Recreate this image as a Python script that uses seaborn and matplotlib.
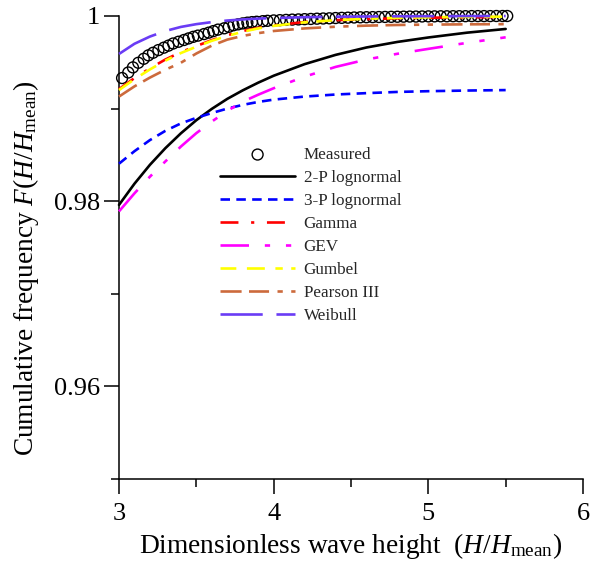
import matplotlib
matplotlib.use("Agg")
import matplotlib.pyplot as plt
import seaborn as sns
import pandas as pd

# ---------------- data ----------------
h_meas = [3.02, 3.06, 3.09, 3.125, 3.16, 3.19, 3.22, 3.255, 3.29, 3.32, 3.35, 3.385,
          3.42, 3.45, 3.48, 3.51, 3.55, 3.58, 3.61, 3.64, 3.68, 3.71, 3.74, 3.77,
          3.80, 3.83, 3.86, 3.89, 3.93, 3.96, 4.00, 4.04, 4.08, 4.12, 4.16, 4.20,
          4.24, 4.28, 4.32, 4.36, 4.40, 4.44, 4.48, 4.52, 4.56, 4.60, 4.64, 4.68,
          4.72, 4.76, 4.80, 4.84, 4.88, 4.92, 4.96, 5.00, 5.04, 5.08, 5.12, 5.16,
          5.20, 5.24, 5.28, 5.32, 5.36, 5.40, 5.44, 5.48, 5.51]
f_meas = [0.99330, 0.99390, 0.99445, 0.99495, 0.99538, 0.99575, 0.99603, 0.99632,
          0.99658, 0.99680, 0.99703, 0.99722, 0.99741, 0.99758, 0.99775, 0.99788,
          0.99805, 0.99820, 0.99837, 0.99853, 0.99867, 0.99883, 0.99900, 0.99910,
          0.99920, 0.99928, 0.99934, 0.99938, 0.99944, 0.99948, 0.99952, 0.99955,
          0.99958, 0.99961, 0.99963, 0.99966, 0.99968, 0.99971, 0.99973, 0.99975,
          0.99978, 0.99980, 0.99982, 0.99984, 0.99986, 0.99987, 0.99988, 0.99989,
          0.99990, 0.99991, 0.99992, 0.99993, 0.99994, 0.99994, 0.99995, 0.99996,
          0.99996, 0.99997, 0.99997, 0.99998, 0.99998, 0.99998, 0.99999, 0.99999,
          0.99999, 0.99999, 1.00000, 1.00000, 1.00000]

h_fit = [3.0, 3.1, 3.2, 3.3, 3.4, 3.5, 3.6, 3.7, 3.8, 3.9, 4.0, 4.2, 4.4, 4.6, 4.8,
         5.0, 5.25, 5.5]
f_lognorm2 = [0.97960, 0.98189, 0.98393, 0.98573, 0.98733, 0.98875, 0.98997, 0.99105,
              0.99197, 0.99280, 0.99355, 0.99480, 0.99580, 0.99660, 0.99720, 0.99768,
              0.99820, 0.99860]
f_lognorm3 = [0.98405, 0.98540, 0.98660, 0.98760, 0.98840, 0.98900, 0.98952, 0.99000,
              0.99040, 0.99072, 0.99097, 0.99130, 0.99152, 0.99167, 0.99180, 0.99188,
              0.99195, 0.99200]
f_gamma = [0.99210, 0.99330, 0.99435, 0.99530, 0.99610, 0.99675, 0.99740, 0.99792,
           0.99838, 0.99872, 0.99898, 0.99935, 0.99955, 0.99966, 0.99975, 0.99981,
           0.99986, 0.99989]
f_gev = [0.97890, 0.98085, 0.98265, 0.98430, 0.98590, 0.98735, 0.98860, 0.98975,
         0.99075, 0.99150, 0.99220, 0.99345, 0.99450, 0.99530, 0.99592, 0.99645,
         0.99710, 0.99770]
f_gumbel = [0.99200, 0.99318, 0.99423, 0.99518, 0.99600, 0.99668, 0.99732, 0.99785,
            0.99830, 0.99866, 0.99893, 0.99932, 0.99955, 0.99970, 0.99980, 0.99986,
            0.99990, 0.99993]
f_pearson = [0.99130, 0.99240, 0.99335, 0.99420, 0.99495, 0.99595, 0.99680, 0.99745,
             0.99785, 0.99815, 0.99838, 0.99866, 0.99884, 0.99896, 0.99903, 0.99907,
             0.99910, 0.99912]
f_weibull = [0.99590, 0.99700, 0.99778, 0.99838, 0.99882, 0.99912, 0.99934, 0.99951,
             0.99963, 0.99972, 0.99978, 0.99987, 0.99992, 0.99995, 0.99997, 0.99998,
             0.99999, 1.00000]

labels = ["2-P lognormal", "3-P lognormal", "Gamma", "GEV", "Gumbel", "Pearson III", "Weibull"]
values = [f_lognorm2, f_lognorm3, f_gamma, f_gev, f_gumbel, f_pearson, f_weibull]
colors = ["#000000", "#0000ff", "#ff0000", "#ff00ff", "#ffff00", "#cc6a3c", "#6a3cf5"]
styles = ["-", (0, (3.6, 2.4)), (0, (6.8, 4.8, 1.2, 4.8)),
          (0, (10.8, 6, 2, 6, 2, 6)), (0, (6, 4, 6.8, 4, 2.8, 3.2)),
          (0, (8, 2.8, 7.6, 3.2, 2, 3.2, 2, 3.2)), (0, (16, 5.2))]

# ---------------- style ----------------
sns.set_style("ticks")
plt.rcParams["font.family"] = ["Liberation Serif", "DejaVu Serif"]
plt.rcParams["mathtext.fontset"] = "custom"
plt.rcParams["mathtext.rm"] = "Liberation Serif"
plt.rcParams["mathtext.it"] = "Liberation Serif:italic"
plt.rcParams["mathtext.bf"] = "Liberation Serif:bold"

fig = plt.figure(figsize=(5.9, 5.61), dpi=100)
ax = fig.add_axes([119 / 590, 1 - 479 / 561, 464 / 590, 463 / 561])

df_meas = pd.DataFrame({"h": h_meas, "f": f_meas})
sns.scatterplot(data=df_meas, x="h", y="f", ax=ax, marker="o", s=62,
                facecolor="none", edgecolor="black", linewidth=1.0,
                clip_on=False, zorder=2, legend=False)
meas_handle = ax.collections[0]

line_handles = []
for lab, val, col, ls in zip(labels, values, colors, styles):
    df = pd.DataFrame({"h": h_fit, "f": val})
    n_before = len(ax.lines)
    sns.lineplot(data=df, x="h", y="f", ax=ax, color=col, linewidth=1.9,
                 linestyle=ls, clip_on=False, zorder=3, legend=False)
    line_handles.append(ax.lines[n_before])

ax.set_xlim(3, 6)
ax.set_ylim(0.95, 1.0)
ax.set_xticks([3, 4, 5, 6])
ax.set_xticks([3.5, 4.5, 5.5], minor=True)
ax.set_yticks([0.96, 0.98, 1.0])
ax.set_yticklabels(["0.96", "0.98", "1"])
ax.set_yticks([0.95, 0.97, 0.99], minor=True)
ax.tick_params(axis="both", which="major", direction="out", length=11,
               width=1.1, color="black", labelsize=19, labelcolor="black")
ax.tick_params(axis="x", which="major", pad=6.5)
ax.tick_params(axis="y", which="major", pad=2.5)
ax.tick_params(axis="both", which="minor", direction="out", length=5.5,
               width=1.1, color="black")
for side in ["top", "right"]:
    ax.spines[side].set_visible(False)
for side in ["left", "bottom"]:
    ax.spines[side].set_color("black")
    ax.spines[side].set_linewidth(1.1)

ax.set_xlabel(r"Dimensionless wave height  ($H/H_{\rm mean}$)", fontsize=19.7,
              color="black", labelpad=4)
ax.set_ylabel(r"Cumulative frequency $F(H/H_{\rm mean})$", fontsize=19.7,
              color="black")
ax.yaxis.set_label_coords(-0.168, 0.455)

ax.legend([meas_handle] + line_handles, ["Measured"] + labels,
          loc="upper left", bbox_to_anchor=(0.2177, 0.717), frameon=False,
          fontsize=12.3, handlelength=4.4, handletextpad=0.5, labelspacing=0.41,
          borderpad=0, borderaxespad=0, numpoints=1)

fig.savefig("out.png", dpi=100)
